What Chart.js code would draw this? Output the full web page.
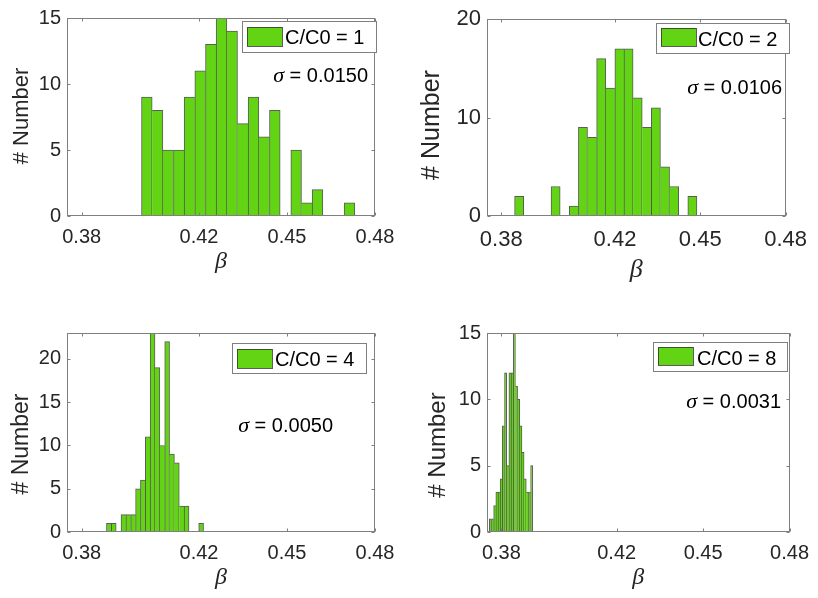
<!DOCTYPE html>
<html>
<head>
<meta charset="utf-8">
<script src="https://cdn.jsdelivr.net/npm/chart.js@4.4.1/dist/chart.umd.min.js"></script>
<style>
  html, body { margin: 0; padding: 0; background: #ffffff; }
  #wrap { position: relative; width: 818px; height: 598px; overflow: hidden; }
  #wrap canvas { position: absolute; left: 0; top: 0; }
</style>
</head>
<body>
<div id="wrap">
  <canvas id="h1" width="818" height="598"></canvas>
  <canvas id="h2" width="818" height="598"></canvas>
  <canvas id="h4" width="818" height="598"></canvas>
  <canvas id="h8" width="818" height="598"></canvas>
</div>
<script>
// Histogram counts of beta (20 equal bins) for each concentration ratio C/C0
const counts1 = [9, 8, 5, 5, 9, 11, 13, 15, 14, 7, 9, 6, 8, 0, 5, 1, 2, 0, 0, 1];
const counts2 = [2, 0, 0, 0, 3, 0, 1, 9, 8, 16, 13, 17, 17, 12, 9, 11, 5, 3, 0, 2];
const counts4 = [1, 1, 0, 2, 2, 2, 5, 6, 11, 23, 19, 10, 22, 9, 8, 3, 3, 0, 0, 1];
const counts8 = [1, 1, 2, 3, 3, 4, 8, 12, 5, 12, 12, 15, 11, 10, 8, 6, 4, 3, 3, 5];

// Left edge of the first bin and bin width for each histogram
const binStart1 = 0.4004, binWidth1 = 0.003636;
const binStart2 = 0.3847, binWidth2 = 0.003206;
const binStart4 = 0.38845, binWidth4 = 0.001655;
const binStart8 = 0.3758, binWidth8 = 0.000755;

// Legend labels and standard deviations
const ratioLabels = ['C/C0 = 1', 'C/C0 = 2', 'C/C0 = 4', 'C/C0 = 8'];
const sigmaValues = ['0.0150', '0.0106', '0.0050', '0.0031'];

// Axis ticks and titles
const xTicks = [0.38, 0.42, 0.45, 0.48];
const xRange = [0.375, 0.48];
const yTicks1 = [0, 5, 10, 15];
const yTicks2 = [0, 10, 20];
const yTicks4 = [0, 5, 10, 15, 20];
const yTicks8 = [0, 5, 10, 15];
const yMaxes = [15, 20, 23, 15];
const xTitle = 'β';
const yTitle = '# Number';

const BAR_FILL = '#63d414';
const BAR_EDGE = 'rgba(45,45,45,0.78)';
const AXIS_COLOR = '#7f7f7f';
const TEXT_COLOR = '#262626';
const SANS = '"Liberation Sans", Arial, Helvetica, sans-serif';
const SERIF = '"Liberation Serif", "DejaVu Serif", serif';

// Page layout of each panel: plot rectangle, axis sizes, titles, legend and sigma placement
const panels = [
  { id: 'h1', counts: counts1, start: binStart1, width: binWidth1, yTicks: yTicks1,
    plot: [67, 17, 375, 216], yAxisLeft: 9, xAxisH: 60, xTickPad: 9,
    tickFont: 20, betaFont: 24,
    yTitle: { x: 22, y: 116, size: 22 },
    legend: { box: [242, 21, 134, 31], patch: [247, 27, 35, 19], textX: 285, textY: 44 },
    sigma: { right: 368, base: 82 } },
  { id: 'h2', counts: counts2, start: binStart2, width: binWidth2, yTicks: yTicks2,
    plot: [487, 17, 792, 216], yAxisLeft: 418, xAxisH: 70, xTickPad: 11,
    tickFont: 22, betaFont: 26,
    yTitle: { x: 432, y: 125, size: 25 },
    legend: { box: [656, 23, 133, 30], patch: [661, 28, 35, 18], textX: 698, textY: 46 },
    sigma: { right: 782, base: 94 } },
  { id: 'h4', counts: counts4, start: binStart4, width: binWidth4, yTicks: yTicks4,
    plot: [67, 333, 375, 532], yAxisLeft: 9, xAxisH: 60, xTickPad: 9,
    tickFont: 20, betaFont: 24,
    yTitle: { x: 22, y: 444, size: 23 },
    legend: { box: [232, 343, 134, 30], patch: [237, 349, 35, 19], textX: 275, textY: 366 },
    sigma: { right: 333, base: 432 } },
  { id: 'h8', counts: counts8, start: binStart8, width: binWidth8, yTicks: yTicks8,
    plot: [487, 333, 792, 532], yAxisLeft: 425, xAxisH: 60, xTickPad: 9,
    tickFont: 20, betaFont: 24,
    yTitle: { x: 438, y: 445, size: 24 },
    legend: { box: [653, 342, 134, 29], patch: [658, 347, 35, 18], textX: 697, textY: 365 },
    sigma: { right: 781, base: 408 } }
];

// Draws the axes box with inward ticks, the y label, the legend box and the sigma annotation
const matFrame = {
  id: 'matFrame',
  afterDraw(chart, args, o) {
    const { ctx, chartArea: a } = chart;
    const xs = chart.scales.x, ys = chart.scales.y;
    ctx.save();
    ctx.strokeStyle = AXIS_COLOR;
    ctx.lineWidth = 1;
    const L = Math.round(a.left) + 0.5, R = Math.round(a.right) - 0.5;
    const T = Math.round(a.top) + 0.5, B = Math.round(a.bottom) - 0.5;
    ctx.strokeRect(L, T, R - L, B - T);
    const tl = 3;
    ctx.beginPath();
    xs.ticks.forEach(t => {
      const px = Math.round(xs.getPixelForValue(t.value)) + 0.5;
      ctx.moveTo(px, B); ctx.lineTo(px, B - tl);
      ctx.moveTo(px, T); ctx.lineTo(px, T + tl);
    });
    ys.ticks.forEach(t => {
      const py = Math.round(ys.getPixelForValue(t.value)) + 0.5;
      ctx.moveTo(L, py); ctx.lineTo(L + tl, py);
      ctx.moveTo(R, py); ctx.lineTo(R - tl, py);
    });
    ctx.stroke();

    // y label, rotated
    const yt = o.yTitle;
    ctx.save();
    ctx.translate(yt.x, yt.y);
    ctx.rotate(-Math.PI / 2);
    ctx.fillStyle = TEXT_COLOR;
    ctx.textAlign = 'center';
    ctx.textBaseline = 'middle';
    ctx.font = yt.size + 'px ' + SANS;
    ctx.fillText(yTitle, 0, 0);
    ctx.restore();

    // legend
    const lg = o.legend;
    ctx.fillStyle = '#ffffff';
    ctx.fillRect(lg.box[0], lg.box[1], lg.box[2], lg.box[3]);
    ctx.strokeStyle = AXIS_COLOR;
    ctx.strokeRect(lg.box[0] + 0.5, lg.box[1] + 0.5, lg.box[2], lg.box[3]);
    ctx.fillStyle = BAR_FILL;
    ctx.fillRect(lg.patch[0], lg.patch[1], lg.patch[2], lg.patch[3]);
    ctx.strokeStyle = BAR_EDGE;
    ctx.strokeRect(lg.patch[0] + 0.5, lg.patch[1] + 0.5, lg.patch[2], lg.patch[3]);
    ctx.fillStyle = '#000000';
    ctx.textBaseline = 'alphabetic';
    ctx.textAlign = 'left';
    ctx.font = '20px ' + SANS;
    ctx.fillText(o.label, lg.textX, lg.textY);

    // sigma annotation
    const sg = o.sigma;
    const rest = ' = ' + o.sigmaText;
    ctx.font = '20px ' + SANS;
    const wRest = ctx.measureText(rest).width;
    ctx.font = 'italic 22px ' + SERIF;
    const wSig = ctx.measureText('σ').width;
    const x0 = sg.right - wRest - wSig;
    ctx.fillText('σ', x0, sg.base);
    ctx.font = '20px ' + SANS;
    ctx.fillText(rest, x0 + wSig, sg.base);
    ctx.restore();
  }
};

function edgeWidths(counts) {
  // shared bar edges are drawn once, by the taller neighbour
  return (c) => {
    const i = c.dataIndex, v = counts[i];
    const prev = i > 0 ? counts[i - 1] : 0;
    const next = i < counts.length - 1 ? counts[i + 1] : 0;
    return { top: 1, bottom: 0, left: prev <= v ? 1 : 0, right: next < v ? 1 : 0 };
  };
}

panels.forEach((p, k) => {
  const [pl, pt, pr, pb] = p.plot;
  const yAxisW = pl - p.yAxisLeft;
  const data = p.counts.map((c, i) => ({ x: p.start + (i + 0.5) * p.width, y: c }));
  new Chart(document.getElementById(p.id), {
    type: 'bar',
    data: {
      datasets: [{
        label: ratioLabels[k],
        data: data,
        backgroundColor: BAR_FILL,
        borderColor: BAR_EDGE,
        borderWidth: edgeWidths(p.counts),
        borderSkipped: false,
        barPercentage: 1,
        categoryPercentage: 1
      }]
    },
    options: {
      responsive: false,
      animation: false,
      events: [],
      layout: { padding: { left: p.yAxisLeft, top: pt, right: 818 - pr, bottom: 598 - pb - p.xAxisH } },
      plugins: {
        legend: { display: false },
        tooltip: { enabled: false },
        matFrame: { legend: p.legend, sigma: p.sigma, yTitle: p.yTitle,
                    label: ratioLabels[k], sigmaText: sigmaValues[k] }
      },
      scales: {
        x: {
          type: 'linear',
          offset: false,
          min: xRange[0], max: xRange[1],
          afterBuildTicks: (s) => { s.ticks = xTicks.map(v => ({ value: v })); },
          afterFit: (s) => { s.height = p.xAxisH; },
          grid: { display: false, drawTicks: false, offset: false },
          border: { display: false },
          ticks: {
            padding: p.xTickPad,
            color: TEXT_COLOR,
            maxRotation: 0,
            autoSkip: false,
            font: { family: SANS, size: p.tickFont },
            callback: (v) => Number(v).toFixed(2)
          },
          title: {
            display: true, text: xTitle, color: TEXT_COLOR,
            padding: { top: 0, bottom: 0 },
            font: { family: SERIF, size: p.betaFont, style: 'italic' }
          }
        },
        y: {
          min: 0, max: yMaxes[k],
          afterBuildTicks: (s) => { s.ticks = p.yTicks.map(v => ({ value: v })); },
          afterFit: (s) => { s.width = yAxisW; },
          grid: { display: false, drawTicks: false },
          border: { display: false },
          ticks: {
            padding: 6,
            color: TEXT_COLOR,
            font: { family: SANS, size: p.tickFont }
          },
          title: { display: false }
        }
      }
    },
    plugins: [matFrame]
  });
});
</script>
</body>
</html>
